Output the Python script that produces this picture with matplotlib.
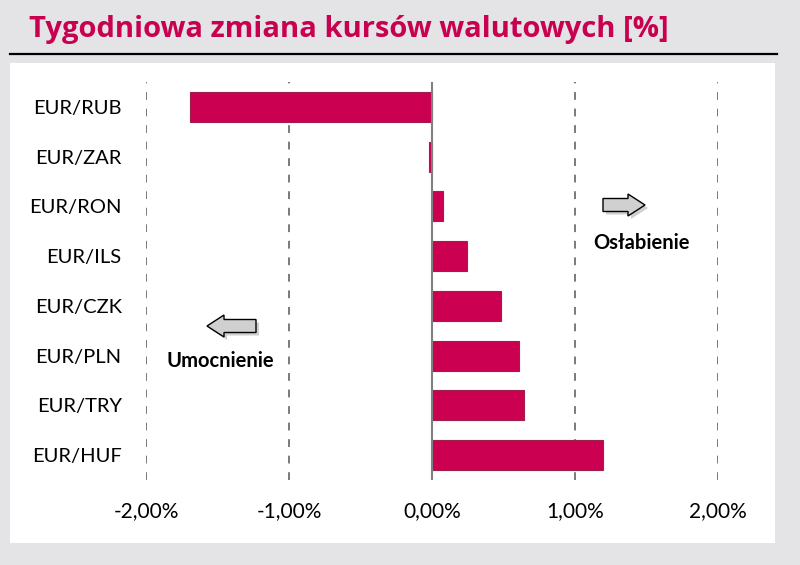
import numpy as np
import matplotlib.pyplot as plt
from matplotlib.patches import Rectangle, Polygon
from matplotlib.lines import Line2D

# dane
pary = ["EUR/RUB", "EUR/ZAR", "EUR/RON", "EUR/ILS", "EUR/CZK", "EUR/PLN", "EUR/TRY", "EUR/HUF"]
zmiana = [-1.69, -0.02, 0.08, 0.245, 0.48, 0.61, 0.64, 1.195]
ticks = [-2, -1, 0, 1, 2]
tick_labels = ["-2,00%", "-1,00%", "0,00%", "1,00%", "2,00%"]

W, H = 800, 565
fig = plt.figure(figsize=(8, 5.65), dpi=100)
fig.patch.set_facecolor("#e4e4e6")

def px(x, y):
    return (x / W, 1 - y / H)

# biały panel
fig.patches.append(Rectangle(px(10, 543), 765 / W, 480 / H, transform=fig.transFigure,
                             facecolor="white", edgecolor="none", zorder=-2))
# linia pod tytułem
fig.add_artist(Line2D([10 / W, 777 / W], [1 - 54 / H] * 2, transform=fig.transFigure,
                      color="black", lw=1.6))
fig.text(*px(29, 30), "Tygodniowa zmiana kursów walutowych [%]", color="#c8004f",
         fontsize=21, fontweight="bold", family="Open Sans", va="center", ha="left")

ax = fig.add_axes([146 / W, 85 / H, 572 / W, 398 / H])
ax.set_zorder(1)
ax.set_facecolor("none")
y = np.arange(len(pary))
ax.barh(y, zmiana, height=0.6, color="#cc0050", edgecolor="#9c2048", linewidth=0.8, zorder=3)
ax.set_xlim(-2, 2)
ax.set_ylim(len(pary) - 0.5, -0.5)
ax.set_yticks(y)
ax.set_yticklabels(pary)
ax.set_xticks(ticks)
ax.set_xticklabels(tick_labels)
for t in [-2, -1, 1, 2]:
    ax.axvline(t, color="#7a7a7a", ls=(0, (4, 4.5)), lw=1.4, zorder=1)
ax.axvline(0, color="#808080", lw=1.5, zorder=4)
for s in ax.spines.values():
    s.set_visible(False)
ax.tick_params(length=0, labelsize=15)
ax.tick_params(axis="y", labelsize=14.5, pad=17.5)
ax.tick_params(axis="x", pad=15)
for lab in ax.get_xticklabels() + ax.get_yticklabels():
    lab.set_family("Lato")

# strzałki
def strzalka(x0, x1, yc, w=13, hw=22, hl=17):
    d = 1 if x1 > x0 else -1
    xb = x1 - d * hl
    pts = [(x0, yc - w / 2), (xb, yc - w / 2), (xb, yc - hw / 2), (x1, yc),
           (xb, yc + hw / 2), (xb, yc + w / 2), (x0, yc + w / 2)]
    cien = [px(a + 3, b + 3) for a, b in pts]
    fig.patches.append(Polygon(cien, closed=True, transform=fig.transFigure,
                               facecolor="#a0a0a0", edgecolor="none", alpha=0.5, zorder=5))
    fig.patches.append(Polygon([px(a, b) for a, b in pts], closed=True, transform=fig.transFigure,
                               facecolor="#d0d0d0", edgecolor="black", lw=1.0, zorder=6))

strzalka(603, 645, 205)
strzalka(256, 207, 326)
fig.text(*px(641, 243), "Osłabienie", fontsize=14.5, fontweight="bold", family="Lato",
         ha="center", va="center", zorder=7)
fig.text(*px(220, 361), "Umocnienie", fontsize=14.5, fontweight="bold", family="Lato",
         ha="center", va="center", zorder=7)

plt.savefig("out.png", dpi=100, facecolor=fig.get_facecolor())
